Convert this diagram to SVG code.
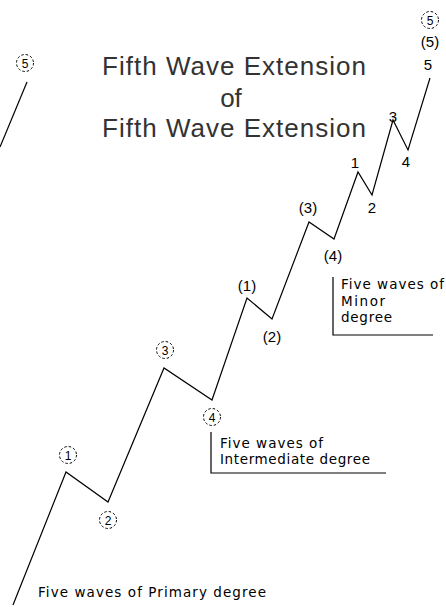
<svg xmlns="http://www.w3.org/2000/svg" width="446" height="607" viewBox="0 0 446 607">
<style>
.wave{fill:none;stroke:#000;stroke-width:1.2;stroke-linejoin:miter}
.br{fill:none;stroke:#000;stroke-width:1.2}
.ttl{font-family:"Liberation Sans",Arial,sans-serif;font-size:26px;fill:#333;text-anchor:middle}
.num{font-family:"Liberation Sans",Arial,sans-serif;font-size:15px;fill:#000;text-anchor:middle}
.cnum{font-family:"Liberation Sans",Arial,sans-serif;font-size:12px;fill:#000;text-anchor:middle}
.circ{fill:none;stroke:#000;stroke-width:1;stroke-dasharray:2.5 2}
.ann{font-family:"DejaVu Sans",Verdana,sans-serif;font-size:13.5px;fill:#000}
</style>
<rect width="446" height="607" fill="#fff"/>
<g id="title">
<text class="ttl" x="234" y="75" textLength="264">Fifth Wave Extension</text>
<text class="ttl" x="231" y="107">of</text>
<text class="ttl" x="234" y="137" textLength="264">Fifth Wave Extension</text>
</g>
<g id="connectors">
<polyline class="wave" points="0,147 27,82"/>
<polyline class="wave" points="13,605 66,472 108,502 164,368 212,400 247,298 272,319 309,222 334,239 358,172 372,195 393,120 408,150 430,78"/>
<polyline class="br" points="211,432 211,473 386,473"/>
<polyline class="br" points="333,277 333,335 433,335"/>
</g>
<g id="primary5-left"><circle class="circ" cx="25" cy="63" r="8.5"/><text class="cnum" x="25" y="67.5">5</text></g>
<g id="primary1"><circle class="circ" cx="68" cy="455" r="8.5"/><text class="cnum" x="68" y="459.5">1</text></g>
<g id="primary2"><circle class="circ" cx="108" cy="520" r="8.5"/><text class="cnum" x="108" y="524.5">2</text></g>
<g id="primary3"><circle class="circ" cx="165" cy="350" r="8.5"/><text class="cnum" x="165" y="354.5">3</text></g>
<g id="primary4"><circle class="circ" cx="212" cy="417" r="8.5"/><text class="cnum" x="212" y="421.5">4</text></g>
<g id="primary5-top"><circle class="circ" cx="430" cy="20" r="8.5"/><text class="cnum" x="430" y="24.5">5</text></g>
<g id="int1"><text class="num" x="247" y="291">(1)</text></g>
<g id="int2"><text class="num" x="272" y="342">(2)</text></g>
<g id="int3"><text class="num" x="308" y="213">(3)</text></g>
<g id="int4"><text class="num" x="333" y="261">(4)</text></g>
<g id="int5"><text class="num" x="430" y="47">(5)</text></g>
<g id="min1"><text class="num" x="355" y="168">1</text></g>
<g id="min2"><text class="num" x="372" y="213">2</text></g>
<g id="min3"><text class="num" x="393" y="122">3</text></g>
<g id="min4"><text class="num" x="406" y="167">4</text></g>
<g id="min5"><text class="num" x="428" y="70">5</text></g>
<g id="label-minor">
<text class="ann" x="341" y="289" textLength="103">Five waves of</text>
<text class="ann" x="341" y="306" textLength="44">Minor</text>
<text class="ann" x="341" y="322" textLength="51">degree</text>
</g>
<g id="label-intermediate">
<text class="ann" x="220" y="448" textLength="103">Five waves of</text>
<text class="ann" x="220" y="464" textLength="150">Intermediate degree</text>
</g>
<g id="label-primary">
<text class="ann" x="38" y="597" textLength="228">Five waves of Primary degree</text>
</g>
</svg>
